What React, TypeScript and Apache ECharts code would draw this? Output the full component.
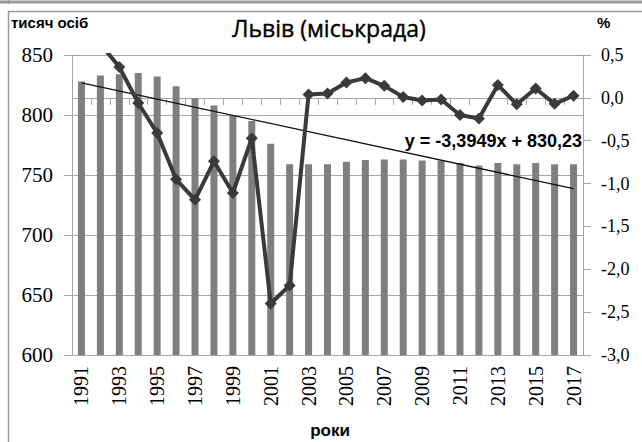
import React, { useEffect, useRef } from "react";
import * as echarts from "echarts";

const years: string[] = [
  "1991", "1992", "1993", "1994", "1995", "1996", "1997", "1998", "1999", "2000",
  "2001", "2002", "2003", "2004", "2005", "2006", "2007", "2008", "2009", "2010",
  "2011", "2012", "2013", "2014", "2015", "2016", "2017",
];

// population, thousand persons (left axis)
const population: number[] = [
  828, 833, 834, 835, 832, 824, 814, 808, 800, 795,
  776, 759, 759, 759, 761, 762.5, 763, 763, 762, 762,
  760, 758, 760, 759, 760, 759, 759,
];

// annual change, % (right axis)
const changePct: (number | null)[] = [
  null, 0.63, 0.36, -0.06, -0.41, -0.95, -1.19, -0.74, -1.11, -0.47,
  -2.4, -2.19, 0.04, 0.05, 0.18, 0.23, 0.14, 0.01, -0.03, -0.02,
  -0.2, -0.24, 0.15, -0.075, 0.11, -0.07, 0.026,
];

// linear trend end points (first and last year)
const trendEnds: number[] = [826.8, 738.6];
const trendLabel = "y = -3,3949x + 830,23";

const leftTicks = { min: 600, max: 850, interval: 50 };
const rightTicks = { min: -3, max: 0.5, interval: 0.5 };

export default function App() {
  const ref = useRef<HTMLDivElement>(null);
  useEffect(() => {
    if (!ref.current) return;
    const chart = echarts.init(ref.current, null, { renderer: "svg" });
    const trendData = years.map((_, i) =>
      i === 0 ? trendEnds[0] : i === years.length - 1 ? trendEnds[1] : null
    );
    const gridColor = "#a6a6a6";
    chart.setOption({
      animation: false,
      backgroundColor: "#ffffff",
      grid: { left: 72, right: 59, top: 55, bottom: 87, containLabel: false },
      xAxis: {
        type: "category",
        data: years,
        boundaryGap: true,
        axisLine: { lineStyle: { color: gridColor, width: 1 } },
        axisTick: { show: true, interval: 0, length: 7, lineStyle: { color: gridColor } },
        axisLabel: {
          interval: 1,
          rotate: 90,
          margin: 11,
          fontFamily: "Liberation Serif",
          fontSize: 20,
          color: "#000",
        },
        splitLine: { show: false },
      },
      yAxis: [
        {
          type: "value",
          min: leftTicks.min,
          max: leftTicks.max,
          interval: leftTicks.interval,
          axisLine: { show: true, lineStyle: { color: gridColor } },
          axisTick: { show: true, length: 8, lineStyle: { color: gridColor } },
          axisLabel: {
            margin: 19,
            fontFamily: "Liberation Serif",
            fontSize: 21,
            color: "#000",
          },
          splitLine: { show: true, lineStyle: { color: gridColor, width: 1 } },
        },
        {
          type: "value",
          position: "right",
          min: rightTicks.min,
          max: rightTicks.max,
          interval: rightTicks.interval,
          axisLine: { show: true, lineStyle: { color: gridColor } },
          axisTick: { show: true, length: 8, lineStyle: { color: gridColor } },
          axisLabel: {
            margin: 18,
            fontFamily: "Liberation Serif",
            fontSize: 18,
            color: "#000",
            formatter: (v: number) => v.toFixed(1).replace(".", ","),
          },
          splitLine: { show: false },
        },
      ],
      series: [
        {
          type: "bar",
          data: population,
          yAxisIndex: 0,
          barWidth: 7,
          itemStyle: { color: "#7f7f7f" },
          z: 1,
        },
        {
          type: "line",
          data: trendData,
          yAxisIndex: 0,
          connectNulls: true,
          showSymbol: false,
          symbol: "none",
          lineStyle: { color: "#111", width: 1.3 },
          z: 2,
        },
        {
          type: "line",
          data: changePct,
          yAxisIndex: 1,
          symbol: "diamond",
          symbolSize: 12,
          itemStyle: { color: "#3a3a3a" },
          lineStyle: { color: "#3a3a3a", width: 4 },
          clip: true,
          z: 3,
        },
      ],
      graphic: [
        { type: "line", shape: { x1: 0, y1: 2, x2: 642, y2: 2 }, style: { stroke: "#9a9a9a", lineWidth: 3 } },
        { type: "rect", shape: { x: 8.5, y: 11.5, width: 700, height: 500 }, style: { fill: "none", stroke: "#9a9a9a", lineWidth: 1.5 } },
        { type: "line", shape: { x1: 8.5, y1: 0, x2: 8.5, y2: 4 }, style: { stroke: "#9a9a9a", lineWidth: 1.5 } },
        {
          type: "text",
          x: 329,
          y: 28,
          style: {
            text: "Львів (міськрада)",
            font: "23px 'Open Sans'",
            fill: "#000",
            stroke: "#000",
            lineWidth: 0.4,
            textAlign: "center",
            textVerticalAlign: "middle",
          },
        },
        {
          type: "text",
          x: 11,
          y: 22,
          style: { text: "тисяч осіб", font: "bold 15px 'Liberation Sans'", fill: "#000", textVerticalAlign: "middle" },
        },
        {
          type: "text",
          x: 597,
          y: 22,
          style: { text: "%", font: "bold 15px 'Liberation Sans'", fill: "#000", textVerticalAlign: "middle" },
        },
        {
          type: "text",
          x: 582,
          y: 141,
          style: {
            text: trendLabel,
            font: "bold 18px 'Liberation Sans'",
            fill: "#000",
            textAlign: "right",
            textVerticalAlign: "middle",
          },
        },
        {
          type: "text",
          x: 330,
          y: 430,
          style: {
            text: "роки",
            font: "bold 17px 'Liberation Sans'",
            fill: "#000",
            textAlign: "center",
            textVerticalAlign: "middle",
          },
        },
      ],
    });
    return () => chart.dispose();
  }, []);
  return (
    <div
      ref={ref}
      style={{ position: "absolute", left: 0, top: 0, width: 642, height: 442 }}
    />
  );
}
